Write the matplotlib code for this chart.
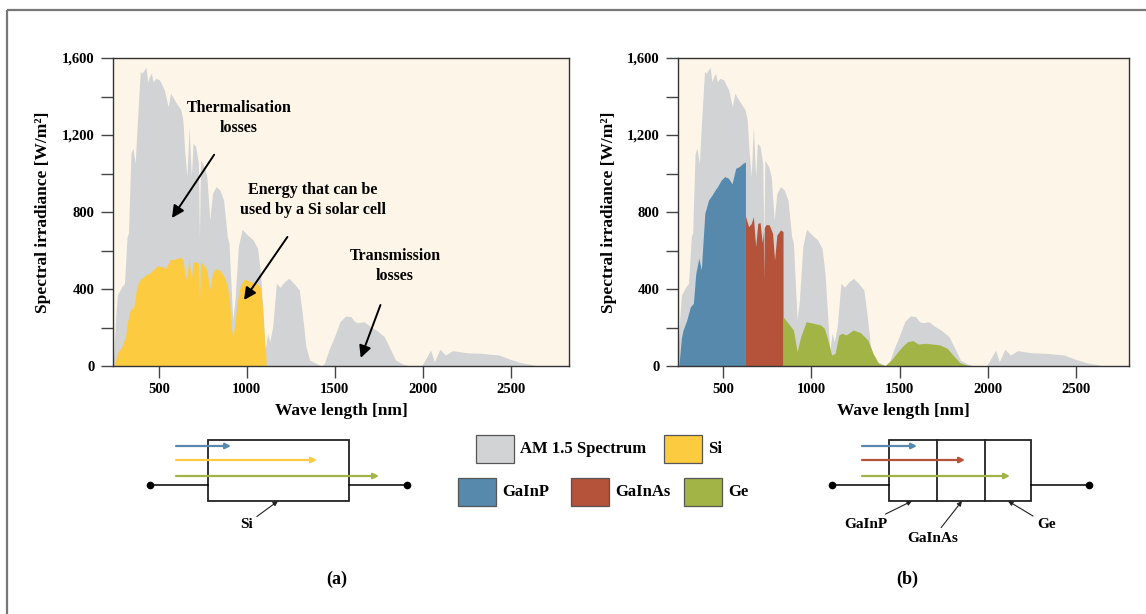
import matplotlib
matplotlib.use('Agg')
import matplotlib.pyplot as plt
from matplotlib.patches import Rectangle
from matplotlib.ticker import MultipleLocator, FuncFormatter

plt.rcParams['font.family'] = ['Liberation Serif', 'DejaVu Serif']
plt.rcParams['font.weight'] = 'bold'
plt.rcParams['axes.labelweight'] = 'bold'

# AM 1.5 spectrum (nm, W/m2)
am15_wl = [241, 255, 265, 290, 305, 320, 328, 342, 353, 366, 378, 395, 405, 427, 437,
           447, 458, 468, 483, 504, 532, 553, 567, 595, 626, 637, 647, 660, 672, 685,
           695, 710, 725, 731, 737, 758, 773, 790, 805, 826, 847, 868, 889, 899, 907,
           920, 933, 952, 973, 1004, 1036, 1061, 1078, 1092, 1105, 1118, 1130, 1147,
           1168, 1189, 1214, 1239, 1267, 1298, 1315, 1336, 1357, 1393, 1424, 1441,
           1466, 1498, 1529, 1561, 1592, 1613, 1634, 1666, 1697, 1739, 1781, 1813,
           1845, 1887, 1929, 1992, 2023, 2044, 2065, 2097, 2128, 2170, 2244, 2328,
           2433, 2496, 2559, 2622, 2653]
am15_val = [0, 250, 369, 412, 430, 672, 690, 1105, 1131, 1053, 1261, 1530, 1521, 1552,
            1477, 1503, 1521, 1477, 1495, 1486, 1434, 1347, 1417, 1373, 1330, 1278,
            1122, 984, 1243, 984, 1157, 1140, 1053, 655, 1070, 1036, 984, 759, 897, 932,
            914, 862, 672, 637, 481, 239, 343, 620, 710, 681, 655, 611, 481, 274, 83,
            170, 126, 204, 430, 409, 438, 455, 430, 395, 274, 100, 31, 14, 0, 14, 83,
            152, 230, 260, 256, 230, 225, 230, 208, 184, 152, 92, 31, 10, 0, 0, 48, 83,
            22, 87, 57, 80, 69, 66, 57, 35, 17, 7, 0]

# part usable by a Si cell
si_wl = [245, 265, 290, 311, 325, 332, 342, 355, 363, 375, 395, 405, 427, 447, 468,
         490, 521, 542, 563, 590, 605, 630, 640, 647, 658, 672, 685, 695, 710, 725,
         731, 737, 758, 773, 790, 805, 826, 847, 868, 889, 903, 912, 920, 933, 945,
         962, 983, 1004, 1025, 1046, 1067, 1080, 1092, 1102, 1108, 1109]
si_val = [0, 66, 100, 152, 240, 274, 300, 300, 330, 412, 450, 455, 473, 481, 499, 520,
          516, 507, 551, 555, 559, 565, 540, 481, 447, 559, 447, 540, 540, 533, 325,
          542, 520, 499, 395, 480, 507, 495, 470, 420, 325, 200, 152, 230, 330, 412,
          450, 445, 438, 430, 421, 400, 270, 110, 60, 0]

# triple junction sub-cells
gainp_wl = [250, 264, 274, 295, 315, 332, 346, 363, 377, 397, 418, 438, 455, 469, 490,
            510, 531, 551, 572, 592, 613, 627]
gainp_val = [0, 144, 187, 239, 308, 325, 481, 559, 499, 793, 862, 888, 914, 932, 966,
             984, 975, 946, 1027, 1036, 1053, 1060]

gainas_wl = [627, 645, 660, 672, 685, 697, 710, 722, 728, 731, 734, 745, 762, 781, 792,
             805, 826, 840]
gainas_val = [779, 724, 740, 776, 620, 741, 745, 640, 700, 447, 720, 735, 733, 689, 551,
              680, 707, 698]

ge_wl = [840, 869, 899, 920, 940, 971, 1012, 1053, 1074, 1094, 1115, 1135, 1156, 1176,
         1197, 1238, 1279, 1320, 1350, 1381, 1418, 1453, 1484, 1514, 1545, 1576, 1606,
         1647, 1688, 1729, 1770, 1811, 1842, 1883, 1914]
ge_val = [256, 222, 187, 74, 152, 230, 222, 213, 196, 135, 57, 66, 161, 170, 161, 187,
          173, 135, 66, 14, 2, 31, 66, 100, 126, 132, 114, 118, 114, 109, 92, 48, 17, 5, 0]

xticks = [500, 1000, 1500, 2000, 2500]
yticks = [0, 400, 800, 1200, 1600]

BEIGE = '#fdf6e8'
GRAY = '#d1d3d4'
YELLOW = '#fdcb40'
BLUE = '#5689ab'
RED = '#b5523a'
GREEN = '#a3b447'


def style_axes(ax, xlim):
    ax.set_facecolor(BEIGE)
    ax.set_xlim(*xlim)
    ax.set_ylim(0, 1600)
    ax.set_xticks(xticks)
    ax.set_yticks(yticks)
    ax.yaxis.set_minor_locator(MultipleLocator(200))
    ax.yaxis.set_major_formatter(FuncFormatter(lambda v, p: f'{int(v):,}'))
    ax.tick_params(which='both', direction='out', length=8.6, width=1, color='#444',
                   labelsize=10.5)
    ax.tick_params(axis='x', pad=3.5)
    ax.tick_params(axis='y', pad=4.5)
    for s in ax.spines.values():
        s.set_color('#333')
        s.set_linewidth(1)
    ax.set_xlabel('Wave length [nm]', fontsize=12.5)
    ax.set_ylabel('Spectral irradiance [W/m²]', fontsize=12.5)
    ax.xaxis.set_label_coords(0.5, -0.12)
    ax.yaxis.set_label_coords(-0.135, 0.5)
    ax.fill_between(am15_wl, am15_val, color=GRAY, lw=0)


fig = plt.figure(figsize=(11.46, 6.14), dpi=100)

# overlay in pixel coords for frame, legend and circuit sketches
ov = fig.add_axes([0, 0, 1, 1])
ov.set_xlim(0, 1146)
ov.set_ylim(614, 0)
ov.axis('off')
ov.add_patch(Rectangle((7, 10), 1200, 700, fill=False, ec='#777', lw=1.6))

ax1 = fig.add_axes([113 / 1146, 1 - 366 / 614, 456 / 1146, 308 / 614])
style_axes(ax1, (240, 2830))
ax1.fill_between(si_wl, si_val, color=YELLOW, lw=0)

arrow_kw = dict(arrowstyle='-|>', color='k', lw=1.4, mutation_scale=18)
ax1.annotate('Thermalisation\nlosses', xy=(575, 769), xytext=(955, 1290),
             ha='center', va='center', fontsize=11.5, linespacing=1.35,
             arrowprops=dict(**arrow_kw, shrinkA=14, shrinkB=0))
ax1.annotate('Energy that can be\nused by a Si solar cell', xy=(984, 343),
             xytext=(1375, 862), ha='center', va='center', fontsize=11.5,
             linespacing=1.35, arrowprops=dict(**arrow_kw, shrinkA=14, shrinkB=0))
ax1.annotate('Transmission\nlosses', xy=(1647, 42), xytext=(1842, 520),
             ha='center', va='center', fontsize=11.5, linespacing=1.35,
             arrowprops=dict(**arrow_kw, shrinkA=14, shrinkB=0))

ax2 = fig.add_axes([678 / 1146, 1 - 366 / 614, 451 / 1146, 308 / 614])
style_axes(ax2, (245, 2800))
ax2.fill_between(gainp_wl, gainp_val, color=BLUE, lw=0)
ax2.fill_between(gainas_wl, gainas_val, color=RED, lw=0)
ax2.fill_between(ge_wl, ge_val, color=GREEN, lw=0)

# legend
legend_items = [('AM 1.5 Spectrum', GRAY, 476, 435), ('Si', YELLOW, 664, 435),
                ('GaInP', BLUE, 458, 478), ('GaInAs', RED, 571, 478),
                ('Ge', GREEN, 684, 478)]
for label, col, x, y in legend_items:
    ov.add_patch(Rectangle((x, y), 38, 27.5, fc=col, ec='#555', lw=0.9))
    ov.text(x + 44, y + 14, label, ha='left', va='center', fontsize=12)


def cell_sketch(x0, x1, dividers, xl, xr, arrows, labels):
    ov.plot([xl, x0], [485, 485], color='k', lw=1.1)
    ov.plot([x1, xr], [485, 485], color='k', lw=1.1)
    ov.plot([xl, xr], [485, 485], 'o', color='k', ms=4.5, ls='none')
    ov.add_patch(Rectangle((x0, 440), x1 - x0, 61, fill=False, ec='#222', lw=1.3))
    for d in dividers:
        ov.plot([d, d], [440, 501], color='#222', lw=1.3)
    for ya, xs, xe, col in arrows:
        ov.annotate('', xy=(xe, ya), xytext=(xs, ya),
                    arrowprops=dict(arrowstyle='-|>', color=col, lw=1.6,
                                    mutation_scale=8, shrinkA=0, shrinkB=0))
    for text, tx, ty, ha, px, py in labels:
        ov.annotate(text, xy=(px, py), xytext=(tx, ty), ha=ha, va='center',
                    fontsize=11,
                    arrowprops=dict(arrowstyle='-|>', color='#222', lw=0.8,
                                    mutation_scale=7, shrinkA=1, shrinkB=0))


cell_sketch(208, 349, [], 150, 407,
            [(446, 176, 231, BLUE), (460, 176, 317, YELLOW), (476, 176, 379, GREEN)],
            [('Si', 253, 524, 'right', 278, 501)])
cell_sketch(889, 1031, [937, 985], 832, 1089,
            [(446, 862, 917, BLUE), (460, 862, 965, RED), (476, 862, 1010, GREEN)],
            [('GaInP', 887, 524, 'right', 912, 501),
             ('GaInAs', 933, 538, 'center', 962, 501),
             ('Ge', 1037, 524, 'left', 1008, 501)])

ov.text(337, 579, '(a)', ha='center', va='center', fontsize=13)
ov.text(907, 579, '(b)', ha='center', va='center', fontsize=13)

fig.savefig('out.png', dpi=100)
